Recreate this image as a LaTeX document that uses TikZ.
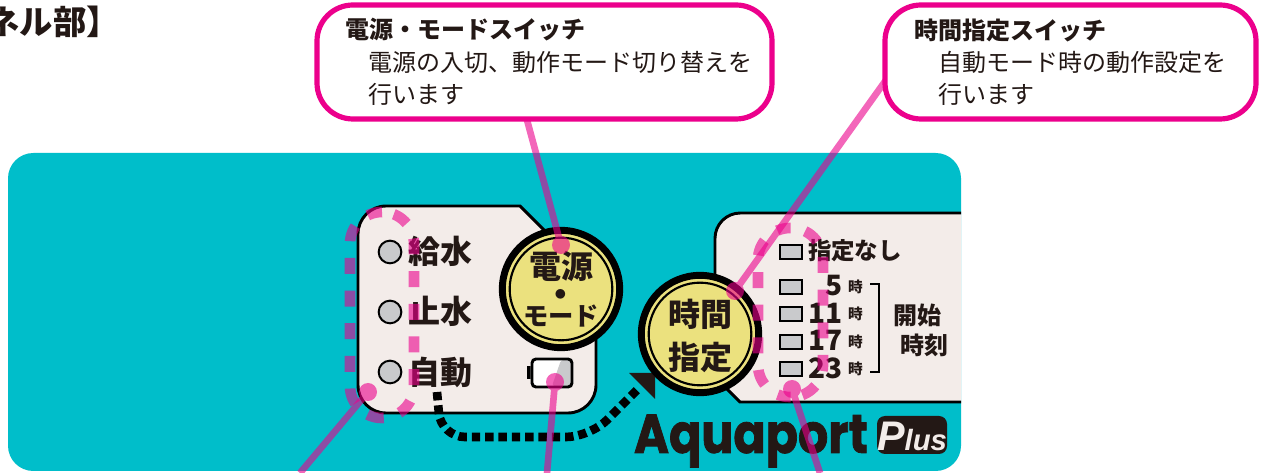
\documentclass[tikz,border=0pt]{standalone}
\usepackage{fontspec}
\usetikzlibrary{calc}
\setmainfont{Noto Sans CJK JP}
\newfontfamily\logofont[BoldFeatures={FakeBold=1.5}]{Poppins}
\newfontfamily\plusfont{Liberation Sans}
\definecolor{ink}{HTML}{231815}
\definecolor{teal}{HTML}{00BECA}
\definecolor{panelc}{HTML}{F3ECE9}
\definecolor{keyc}{HTML}{EBE17E}
\definecolor{ledc}{HTML}{C9CACC}
\definecolor{mag}{HTML}{EC008C}
\newcommand{\fs}[1]{\fontsize{#1}{#1}\selectfont}
\tikzset{
  x=0.75pt,y=-0.75pt,
  every node/.style={inner sep=0pt,outer sep=0pt,text=ink},
  callout/.style={draw=mag,line width=3.9pt,fill=white,rounded corners=27pt},
  ctitle/.style={anchor=west,font=\fs{18}\bfseries},
  cbody/.style={anchor=west,font=\fs{18}},
  panelshape/.style={fill=panelc,draw=black,line width=2.2pt},
  keyouter/.style={circle,draw=black,line width=5.2pt,fill=keyc,minimum size=88pt},
  keyinner/.style={circle,draw=black,line width=1.6pt,minimum size=77pt},
  keytext/.style={font=\fs{24}\bfseries},
  led/.style={circle,draw=black,line width=1.5pt,fill=ledc,minimum size=17pt},
  ledlabel/.style={anchor=west,font=\fs{24}\bfseries},
  slot/.style={draw=black,line width=1.5pt,fill=ledc,minimum width=17pt,minimum height=11pt},
  hour/.style={anchor=east,font=\fs{21}\bfseries},
  hourunit/.style={anchor=west,font=\fs{11}\bfseries},
  sidelabel/.style={anchor=west,font=\fs{18}\bfseries},
  pointer/.style={draw=mag,line width=5pt},
  pointdot/.style={circle,fill=mag,minimum size=13.5pt},
  ringdash/.style={draw=mag,opacity=.6,line width=8pt,rounded corners=24pt},
  flowdash/.style={draw=black,line width=6.5pt,dash pattern=on 6.3pt off 3.7pt,rounded corners=18pt},
}
\begin{document}
\begin{tikzpicture}
\useasboundingbox (0,0) rectangle (1264,473);
\clip (0,0) rectangle (1264,473);
\fill[white] (0,0) rectangle (1264,473);
% heading
\node[anchor=east,font=\fs{25}\bfseries] (heading) at (120,22) {ネル部】};
% main panel
\fill[teal,rounded corners=19pt] (8,153) rectangle (961,471);
% left panel
\draw[panelshape] (520,206) -- (575,261) -- (596,300) [rounded corners=21pt] -- (596,413) -- (358,413) -- (358,206) [sharp corners] -- (520,206) -- cycle;
% right panel
\fill[panelc,rounded corners=19pt] (715,300) -- (715,213) [sharp corners] -- (961,213) -- (961,402) -- (740,402) -- (726,388) -- cycle;
\draw[black,line width=2.2pt,rounded corners=19pt] (715,290) -- (715,213) -- (961,213);
\draw[black,line width=2.2pt] (961,402) -- (740,402) -- (726,388);
% flow arrow
\coordinate (flowstart) at (437,392);
\coordinate (flowbend) at (441,437);
\coordinate (flowturn) at (590,437);
\coordinate (flowend) at (640,387);
\coordinate (tipa) at (629,373);
\coordinate (tipb) at (655,373);
\coordinate (tipc) at (655,399);
\draw[flowdash] (flowstart) -- (flowbend) -- (flowturn) [rounded corners=3pt] -- (flowend);
\fill[ink] (tipa) -- (tipb) -- (tipc) -- cycle;
% power key
\node[keyouter] (powerkey) at (561,289) {};
\node[keyinner] (powerring) at (561,289) {};
\node[keytext] (powerA) at (561,266) {電源};
\node[font=\fs{26}\bfseries] (powerB) at (561,298) {・};
\node[font=\fs{19}\bfseries] (powerC) at (561,316) {モード};
% time key
\node[keyouter] (timekey) at (700,334) {};
\node[keyinner] (timering) at (700,334) {};
\node[keytext] (timeA) at (700,314) {時間};
\node[keytext] (timeB) at (700,357) {指定};
% LEDs
\node[led] (leda) at (390,252) {};
\node[led] (ledb) at (390,312) {};
\node[led] (ledc) at (390,372) {};
\node[ledlabel] (texta) at (408,251) {給水};
\node[ledlabel] (textb) at (408,311) {止水};
\node[ledlabel] (textc) at (408,372) {自動};
% battery
\fill[black] (527,366) rectangle (533,379);
\draw[white,fill=white,rounded corners=3pt,line width=2pt] (532,359) rectangle (572,387);
\fill[ledc,rounded corners=2pt] (561,360) -- (571,360) -- (571,386) -- (552,386) -- cycle;
\draw[black,rounded corners=3pt,line width=2.2pt] (532,359) rectangle (572,387);
% time slots
\node[slot] (slota) at (791,252) {};
\node[slot] (slotb) at (791,287) {};
\node[slot] (slotc) at (791,314) {};
\node[slot] (slotd) at (791,342) {};
\node[slot] (slote) at (791,369) {};
\node[anchor=west,font=\fs{17.6}\bfseries] (nonelabel) at (808,251) {指定なし};
\node[hour] (ha) at (843,286) {5};
\node[hour] (hb) at (843,313) {11};
\node[hour] (hc) at (843,340) {17};
\node[hour] (hd) at (843,368) {23};
\node[hourunit] (ua) at (848,287) {時};
\node[hourunit] (ub) at (848,314) {時};
\node[hourunit] (uc) at (848,342) {時};
\node[hourunit] (ud) at (848,369) {時};
\draw[black,line width=2pt] (870,284) -- (879,284) -- (879,372) -- (870,372);
\node[sidelabel] (startA) at (893,315) {開始};
\node[sidelabel] (startB) at (900,345) {時刻};
% logo
\node[anchor=base west,font=\logofont\fs{41}\bfseries,xscale=.87] (logo) at (634,453) {Aquaport};
\node[fill=ink,rounded corners=6pt,minimum width=52.5pt,minimum height=28.5pt] (badge) at (912,435) {};
\node[font=\plusfont\bfseries\itshape,text=panelc] (plus) at (912,436) {\fs{31}P\fs{22}lus};
% dashed rings
\draw[ringdash,dash pattern=on 12pt off 12.5pt,dash phase=15.45pt] (382,212) -- (414,212) -- (414,418) -- (382,418);
\draw[ringdash,dash pattern=on 12pt off 12.5pt,dash phase=0.7pt] (382,418) -- (350,418) -- (350,212) -- (382,212);
\draw[ringdash,dash pattern=on 12pt off 12.5pt,dash phase=13.2pt] (790.5,228) -- (823,228) -- (823,397) -- (790.5,397);
\draw[ringdash,dash pattern=on 12pt off 12.5pt,dash phase=2.2pt] (790.5,397) -- (758,397) -- (758,228) -- (790.5,228);
% callouts' pointers
\coordinate (freea) at (527,120);
\coordinate (freeb) at (886,80);
\coordinate (freec) at (300,473);
\coordinate (freed) at (547,473);
\coordinate (freee) at (820,473);
\begin{scope}[transparency group,opacity=.6]
\node[pointdot] (dota) at (561,245) {};
\draw[pointer] (freea) -- (dota.center);
\end{scope}
\begin{scope}[transparency group,opacity=.6]
\node[pointdot] (dotb) at (735,291) {};
\draw[pointer] (freeb) -- (dotb.center);
\end{scope}
\begin{scope}[transparency group,opacity=.6]
\node[pointdot] (dotc) at (368,392) {};
\draw[pointer] (freec) -- (dotc.center);
\end{scope}
\begin{scope}[transparency group,opacity=.6]
\node[pointdot] (dotd) at (555,382) {};
\draw[pointer] (freed) -- (dotd.center);
\end{scope}
\begin{scope}[transparency group,opacity=.6]
\node[pointdot] (dote) at (792,389) {};
\draw[pointer] (freee) -- (dote.center);
\end{scope}
% callouts
\draw[callout] (317,5) rectangle (772,119);
\node[ctitle] (cat) at (345,30) {電源・モードスイッチ};
\node[cbody] (cab) at (368,62) {電源の入切、動作モード切り替えを};
\node[cbody] (cac) at (368,94) {行います};
\draw[callout] (885,5) rectangle (1256,119);
\node[ctitle] (cbt) at (914,30) {時間指定スイッチ};
\node[cbody] (cbb) at (938,62) {自動モード時の動作設定を};
\node[cbody] (cbc) at (938,94) {行います};
\end{tikzpicture}
\end{document}
